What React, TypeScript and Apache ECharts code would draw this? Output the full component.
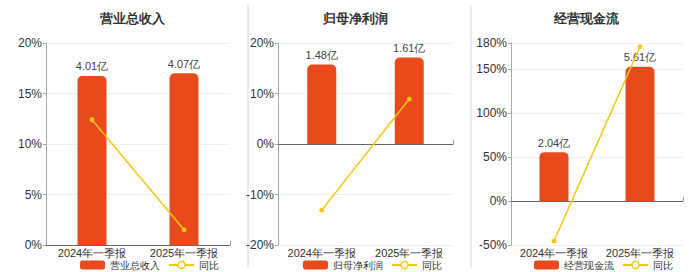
import React, { useEffect, useRef } from "react";
import * as echarts from "echarts";

const categories = ["2024年一季报", "2025年一季报"];
const titles = ["营业总收入", "归母净利润", "经营现金流"];
const amounts1 = [4.01, 4.07];
const amounts2 = [1.48, 1.61];
const amounts3 = [2.04, 5.61];
const yoy1 = [12.4, 1.5];
const yoy2 = [-13.1, 8.9];
const yoy3 = [-45.5, 175.8];
const pctTicks1 = { min: 0, max: 20, interval: 5 };
const pctTicks2 = { min: -20, max: 20, interval: 10 };
const pctTicks3 = { min: -50, max: 180, interval: 50 };
const amountRange1 = { min: 0, max: 4.79 };
const amountRange2 = { min: -1.88, max: 1.88 };
const amountRange3 = { min: -1.84, max: 6.6 };

const BAR = "#e84a1b";
const LINE = "#f2c614";
const FONT = "sans-serif";

export default function App() {
  const ref = useRef<HTMLDivElement>(null);
  useEffect(() => {
    if (!ref.current) return;
    const chart = echarts.init(ref.current, null, { renderer: "svg" });
    const grids = [
      { left: 46, right: 470, top: 43, bottom: 27 },
      { left: 278, right: 247, top: 43, bottom: 27 },
      { left: 511, right: 17, top: 43, bottom: 27 },
    ];
    const centers = [127, 350, 581];
    const amounts = [amounts1, amounts2, amounts3];
    const yoys = [yoy1, yoy2, yoy3];
    const pcts = [pctTicks1, pctTicks2, pctTicks3];
    const ranges = [amountRange1, amountRange2, amountRange3];

    const xAxis: any[] = [];
    const yAxis: any[] = [];
    const series: any[] = [];
    const title: any[] = [];
    const legend: any[] = [];
    for (let i = 0; i < 3; i++) {
      xAxis.push({
        type: "category",
        gridIndex: i,
        data: categories,
        position: "bottom",
        axisLine: { show: false, onZero: false },
        axisTick: { show: false },
        axisLabel: { color: "#333", fontSize: 11, lineHeight: 12, fontFamily: FONT, margin: 2, interval: 0 },
      });
      xAxis.push({
        type: "category",
        gridIndex: i,
        data: categories,
        axisLine: { show: true, onZero: true, onZeroAxisIndex: i * 2, lineStyle: { color: "#666" } },
        axisTick: { show: true, length: 4, lineStyle: { color: "#999" } },
        axisLabel: { show: false },
      });
      yAxis.push({
        type: "value",
        gridIndex: i,
        min: pcts[i].min,
        max: pcts[i].max,
        interval: pcts[i].interval,
        axisLine: { show: true, lineStyle: { color: "#aaa" } },
        axisTick: { show: true, length: 3, lineStyle: { color: "#aaa" } },
        axisLabel: { color: "#333", fontSize: 12, fontFamily: FONT, formatter: "{value}%", margin: 4 },
        splitLine: { show: true, lineStyle: { color: "#eee" } },
      });
      yAxis.push({
        type: "value",
        gridIndex: i,
        min: ranges[i].min,
        max: ranges[i].max,
        show: false,
        splitLine: { show: false },
      });
      series.push({
        name: titles[i],
        type: "bar",
        xAxisIndex: i * 2,
        yAxisIndex: i * 2 + 1,
        data: amounts[i],
        barWidth: 29,
        itemStyle: { color: BAR, borderRadius: [5, 5, 0, 0] },
        label: {
          show: true,
          position: "top",
          color: "#444",
          fontSize: 11,
          fontFamily: FONT,
          distance: 4,
          formatter: (p: any) => p.value.toFixed(2) + "亿",
        },
        z: 2,
      });
      series.push({
        name: "同比",
        type: "line",
        xAxisIndex: i * 2,
        yAxisIndex: i * 2,
        data: yoys[i],
        symbol: "circle",
        symbolSize: 5,
        lineStyle: { color: LINE, width: 1.5 },
        itemStyle: { color: LINE },
        z: 3,
      });
      title.push({
        text: titles[i],
        left: centers[i],
        textAlign: "center",
        top: 7,
        textStyle: { fontSize: 13, fontWeight: "bold", color: "#333", fontFamily: FONT },
      });
      legend.push({
        left: centers[i] - 47,
        top: 260,
        itemWidth: 25,
        itemHeight: 9,
        itemGap: 8,
        padding: 0,
        textStyle: { fontSize: 10, lineHeight: 10, color: "#333", fontFamily: FONT },
        data: [
          { name: titles[i], icon: "roundRect", itemStyle: { color: BAR } },
          {
            name: "同比",
            itemStyle: { color: "#fff", borderColor: LINE, borderWidth: 1.5 },
            lineStyle: { color: LINE },
          },
        ],
      });
    }

    chart.setOption({
      animation: false,
      backgroundColor: "#fff",
      title,
      legend,
      grid: grids,
      xAxis,
      yAxis,
      series,
      graphic: [
        { type: "line", shape: { x1: 248, y1: 5, x2: 248, y2: 268 }, style: { stroke: "#d6d6d6", lineWidth: 1 } },
        { type: "line", shape: { x1: 471, y1: 5, x2: 471, y2: 268 }, style: { stroke: "#d6d6d6", lineWidth: 1 } },
      ],
    });
    return () => chart.dispose();
  }, []);
  return (
    <div
      ref={ref}
      style={{ position: "fixed", left: 0, top: 0, width: 700, height: 272 }}
    />
  );
}
